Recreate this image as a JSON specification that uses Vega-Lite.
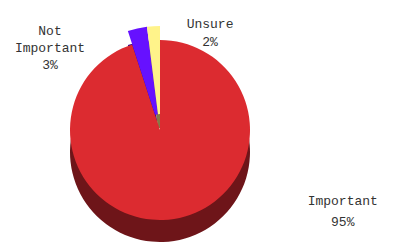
{
  "$schema": "https://vega.github.io/schema/vega-lite/v6.json",
  "width": 320,
  "height": 228,
  "autosize": "none",
  "padding": {"left": 0, "top": 16, "right": 73, "bottom": 0},
  "background": "white",
  "config": {"view": {"stroke": null}},
  "data": {"values": [
    {"cat": "Important", "pct": 95, "label": "Important\n95%"},
    {"cat": "Not Important", "pct": 3, "label": "Not\nImportant\n3%"},
    {"cat": "Unsure", "pct": 2, "label": "Unsure\n2%"}
  ]},
  "encoding": {
    "theta": {"field": "pct", "type": "quantitative", "stack": true}
  },
  "layer": [
    {
      "mark": {"type": "arc", "outerRadius": 90, "yOffset": 22},
      "encoding": {
        "color": {"field": "cat", "type": "nominal", "legend": null,
          "scale": {"domain": ["Important", "Not Important", "Unsure"], "range": ["#6E1519", "#330088", "#857A46"]}},
        "opacity": {"condition": {"test": "datum.cat === 'Important'", "value": 1}, "value": 0}
      }
    },
    {
      "mark": {"type": "arc", "innerRadius": 16, "outerRadius": 104, "yOffset": 14},
      "encoding": {
        "color": {"field": "cat", "type": "nominal", "legend": null,
          "scale": {"domain": ["Important", "Not Important", "Unsure"], "range": ["#6E1519", "#330088", "#857A46"]}},
        "opacity": {"condition": {"test": "datum.cat !== 'Important'", "value": 1}, "value": 0}
      }
    },
    {
      "mark": {"type": "arc", "outerRadius": 90},
      "encoding": {
        "color": {"field": "cat", "type": "nominal", "legend": null,
          "scale": {"domain": ["Important", "Not Important", "Unsure"], "range": ["#DC2B30", "#6611FF", "#FFF38A"]}},
        "opacity": {"condition": {"test": "datum.cat === 'Important'", "value": 1}, "value": 0}
      }
    },
    {
      "mark": {"type": "arc", "innerRadius": 16, "outerRadius": 104},
      "encoding": {
        "color": {"field": "cat", "type": "nominal", "legend": null,
          "scale": {"domain": ["Important", "Not Important", "Unsure"], "range": ["#DC2B30", "#6611FF", "#FFF38A"]}},
        "opacity": {"condition": {"test": "datum.cat !== 'Important'", "value": 1}, "value": 0}
      }
    },
    {
      "mark": {"type": "text", "radius": 148, "thetaOffset": -0.618, "font": "Liberation Mono", "fontSize": 13, "lineHeight": 17, "lineBreak": "\n", "color": "#333333", "align": "center", "baseline": "middle"},
      "encoding": {
        "detail": {"field": "cat", "type": "nominal"},
        "text": {"condition": {"test": "datum.cat === 'Not Important'", "field": "label"}, "value": ""}
      }
    },
    {
      "mark": {"type": "text", "radius": 117, "thetaOffset": 0.505, "font": "Liberation Mono", "fontSize": 13, "lineHeight": 18, "lineBreak": "\n", "color": "#333333", "align": "center", "baseline": "middle"},
      "encoding": {
        "detail": {"field": "cat", "type": "nominal"},
        "text": {"condition": {"test": "datum.cat === 'Unsure'", "field": "label"}, "value": ""}
      }
    },
    {
      "mark": {"type": "text", "radius": 196, "thetaOffset": -1.044, "font": "Liberation Mono", "fontSize": 13, "lineHeight": 21, "lineBreak": "\n", "color": "#333333", "align": "center", "baseline": "middle"},
      "encoding": {
        "detail": {"field": "cat", "type": "nominal"},
        "text": {"condition": {"test": "datum.cat === 'Important'", "field": "label"}, "value": ""}
      }
    }
  ],
  "resolve": {"scale": {"color": "independent"}}
}
